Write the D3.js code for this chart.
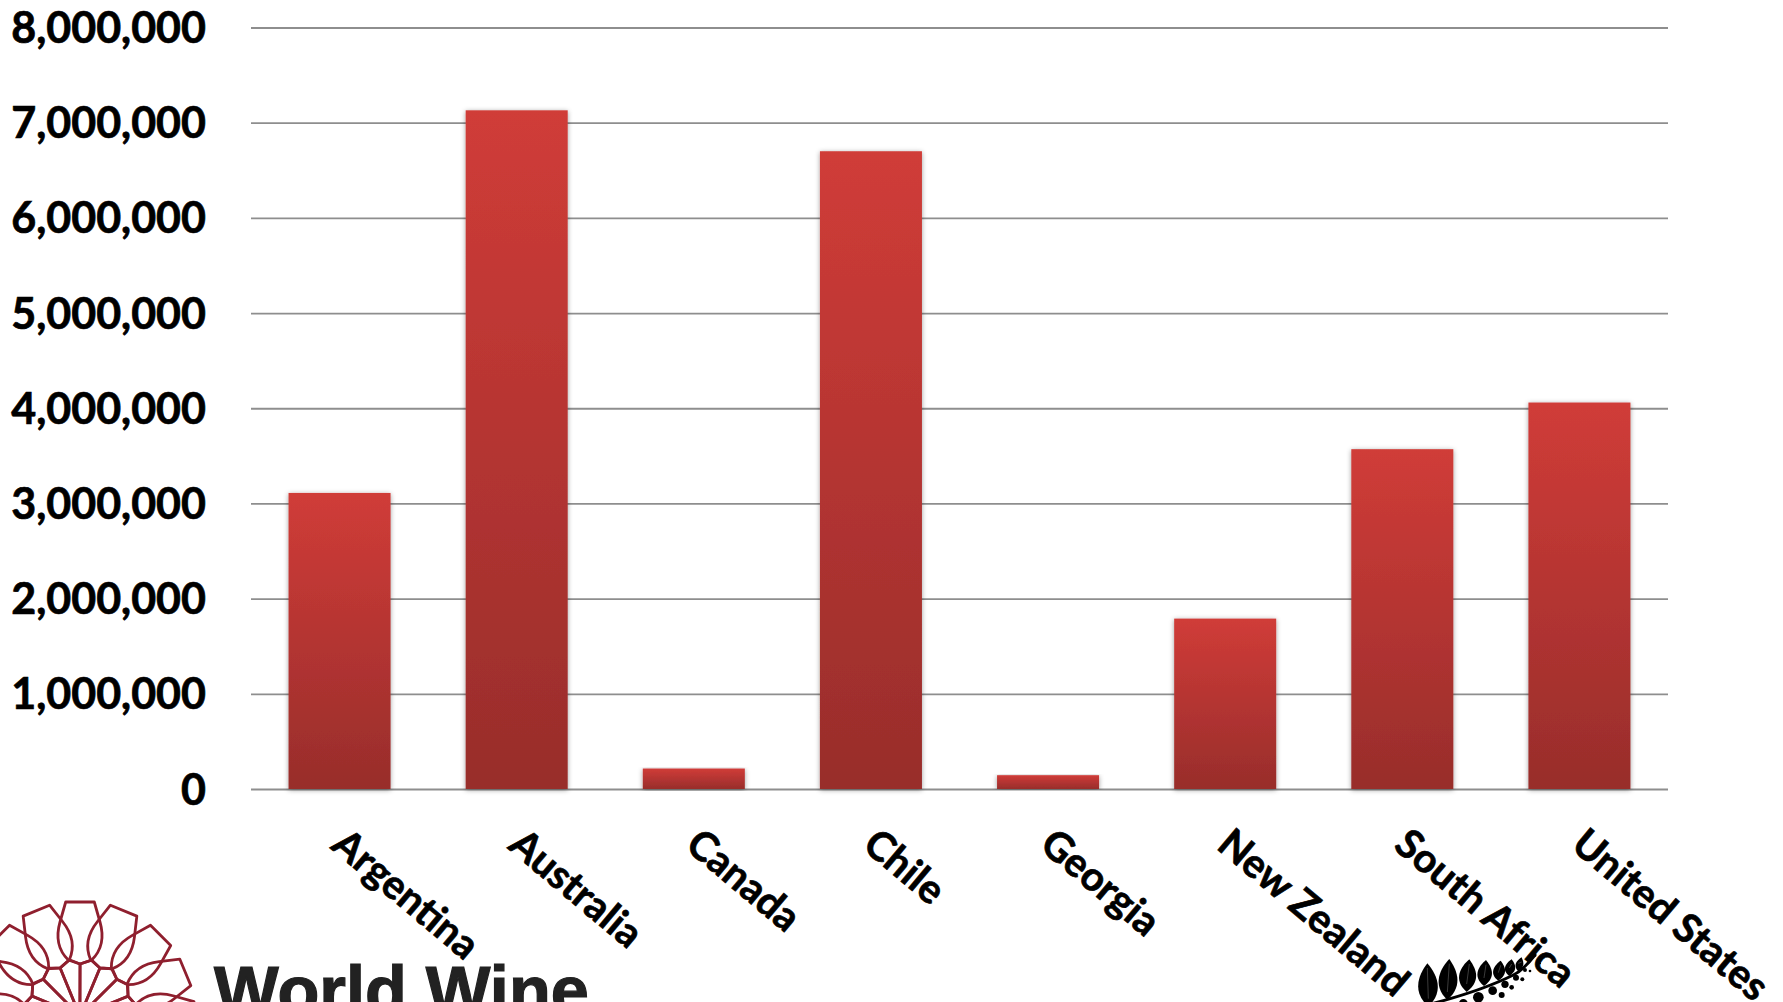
<!DOCTYPE html>
<html><head><meta charset="utf-8">
<script src="https://cdn.jsdelivr.net/npm/d3@7/dist/d3.min.js"></script>
<style>
html,body{margin:0;padding:0;background:#fff;overflow:hidden}
svg{display:block}
text{font-family:Lato,"Open Sans",sans-serif;font-weight:700;fill:#000;stroke:#000;stroke-width:0.7px}
</style></head><body><svg id="chart" width="1783" height="1002"></svg>
<script>
// Wine export volumes by country
const countries = ["Argentina","Australia","Canada","Chile","Georgia","New Zealand","South Africa","United States"];
const volumes = [3110000,7130000,215000,6700000,145000,1790000,3570000,4060000];
const yTicks = [0,1000000,2000000,3000000,4000000,5000000,6000000,7000000,8000000];

const svg = d3.select("#chart");
const x = d3.scaleBand().domain(countries).range([251,1668]).paddingInner(0.424).paddingOuter(0.212);
const y = d3.scaleLinear().domain([0,8000000]).range([789,27.5]);

const defs = svg.append("defs");
const grad = defs.append("linearGradient").attr("id","barFill").attr("x1",0).attr("y1",0).attr("x2",0).attr("y2",1);
grad.append("stop").attr("offset","0%").attr("stop-color","#d03c38");
grad.append("stop").attr("offset","100%").attr("stop-color","#982d2b");
const sh = defs.append("filter").attr("id","barShadow").attr("x","-10%").attr("y","-5%").attr("width","120%").attr("height","110%");
sh.append("feDropShadow").attr("dx",0).attr("dy",1).attr("stdDeviation",2.5).attr("flood-color","#000").attr("flood-opacity",0.38);

// value axis: long ticks serve as gridlines
const yAxis = d3.axisLeft(y).tickValues(yTicks).tickSize(-(1668-251)).tickPadding(0).tickFormat(d3.format(","));
const gy = svg.append("g").attr("transform","translate(251,0)").call(yAxis);
gy.select(".domain").remove();
gy.selectAll(".tick line").attr("stroke","#8e8e8e").attr("stroke-width",1.8);
gy.selectAll(".tick text").attr("x",-45).attr("dy","0.35em").style("font-size","43px");

svg.append("g").selectAll("rect").data(countries).join("rect")
  .attr("x",d=>x(d)).attr("width",x.bandwidth())
  .attr("y",(d,i)=>y(volumes[i])).attr("height",(d,i)=>y(0)-y(volumes[i]))
  .attr("fill","url(#barFill)").attr("filter","url(#barShadow)");

// slanted category labels
const xAxis = d3.axisBottom(x).tickSize(0);
const gx = svg.append("g").attr("transform","translate(0,789)").call(xAxis);
gx.select(".domain").remove();
gx.selectAll(".tick text").attr("text-anchor","start").attr("y",0).attr("dy",0)
  .attr("transform","translate(-10,59) rotate(40)").style("font-size","40.2px");

// rosette emblem: sixteen petals around a hub just below the page edge
const rosette = svg.append("g").attr("transform","translate(80,1016)")
  .attr("fill","none").attr("stroke","#8f1f2e").attr("stroke-width",2.8).attr("stroke-linejoin","round");
d3.range(16).forEach(k=>{
  const p = rosette.append("g").attr("transform",`rotate(${k*22.5})`);
  p.append("path").attr("d","M-14.3,-114 L14.3,-114 L20,-94 C24,-80 22,-66 11.7,-56 L0,-52 L-11.7,-56 C-22,-66 -24,-80 -20,-94 Z");
  p.append("path").attr("d","M0,-52 L0,-10 M11.7,-56 L20,-48 L32.2,-47.2 M20,-48 L4,-10");
});

svg.append("text").attr("x",214).attr("y",1014).style("stroke","#222").style("stroke-width","1.2px")
  .style("font-family","'Liberation Sans'").style("fill","#222").style("font-size","68.5px").text("World Wine");

// silver fern emblem
const fern = svg.append("g").attr("transform","translate(1410,940) scale(0.3333)");
fern.append("path").attr("d","M10,205 Q200,160 310,105 Q340,90 375,45").attr("fill","none").attr("stroke","#000").attr("stroke-width",9);
const fernLeaves = [[52,70,55,200,46],[118,57,112,180,44],[178,58,170,156,40],[228,60,222,138,34],[272,62,265,122,28],[305,58,298,108,24],[335,52,325,94,18]];
fernLeaves.forEach(([tx,ty,bx,by,w])=>{
  const my = ty+(by-ty)*0.62, mx = tx+(bx-tx)*0.62;
  fern.append("path").attr("fill","#000")
    .attr("d",`M${tx},${ty} C${mx-w*0.5},${ty+(by-ty)*0.22} ${mx-w*1.15},${my} ${bx},${by} C${mx+w*1.15},${my} ${mx+w*0.5},${ty+(by-ty)*0.22} ${tx},${ty}Z`);
  fern.append("path").attr("d",`M${tx},${ty+14} L${bx},${by-24}`).attr("stroke","#777").attr("stroke-width",1.5);
});
[[160,190,13],[205,172,16],[248,152,13],[285,133,11],[318,113,9],[345,90,6],[240,195,9],[275,165,9],[305,142,7],[337,118,6],[360,93,4],[375,45,5],[390,70,3],[398,90,3]].forEach(c=>{
  fern.append("circle").attr("cx",c[0]).attr("cy",c[1]).attr("r",c[2]).attr("fill","#000");
});
</script></body></html>
